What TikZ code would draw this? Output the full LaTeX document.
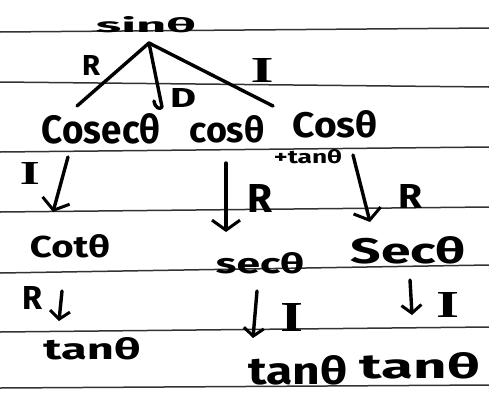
\documentclass[tikz,border=0pt]{standalone}
\usepackage{fontspec}
\setmainfont{Fira Sans}
\newfontfamily\serifhw{Liberation Serif}
\usetikzlibrary{arrows.meta}
\newcommand{\hwb}[3]{\resizebox{#1pt}{#2pt}{\bfseries #3}}
\newcommand{\hwi}[2]{\resizebox{#1pt}{#2pt}{\serifhw\bfseries I}}
\tikzset{
  txt/.style={inner sep=0pt, text=black},
  rule/.style={line width=1.5pt, draw=black!80},
  ln/.style={line width=3.4pt, line cap=round, line join=round},
  arr/.style={ln, -{Straight Barb[length=10pt,width=28pt,line width=3pt]}},
  arrs/.style={ln, -{Straight Barb[length=8pt,width=20pt,line width=3pt]}}
}
\begin{document}
\begin{tikzpicture}[x=1pt,y=-1pt]
\useasboundingbox (0,0) rectangle (489,399);
\fill[white] (0,0) rectangle (489,399);
% ruled paper lines
\draw[rule] (0,32) -- (489,28);
\draw[rule] (0,82) -- (489,87);
\draw[rule] (0,152) -- (489,147);
\draw[rule] (0,212) -- (489,207);
\draw[rule] (0,273) -- (489,265);
\draw[rule] (0,332) -- (489,327);
\draw[rule] (0,388) -- (489,385);
% texts
\node[txt] (sin) at (146,25) {\hwb{100}{16}{sinθ}};
\node[txt] (cosec) at (101,129) {\hwb{118}{30}{Cosecθ}};
\node[txt] (cosm) at (227,129) {\hwb{75}{27}{cosθ}};
\node[txt] (cosr) at (335,124) {\hwb{85}{27}{Cosθ}};
\node[txt] (ptan) at (308,157) {\hwb{68}{14}{+tanθ}};
\node[txt] (cot) at (70,246) {\hwb{80}{23}{Cotθ}};
\node[txt] (secm) at (260,263) {\hwb{88}{21}{secθ}};
\node[txt] (secr) at (408,250) {\hwb{115}{27}{Secθ}};
\node[txt] (tanl) at (92,349) {\hwb{97}{22}{tanθ}};
\node[txt] (tanm) at (298,370) {\hwb{99}{29}{tanθ}};
\node[txt] (tanr) at (420,366) {\hwb{120}{26}{tanθ}};
% edge labels
\node[txt] (lR1) at (91,65) {\hwb{18}{20}{R}};
\node[txt] (lI1) at (262,70) {\hwi{23}{24}};
\node[txt] (lD) at (183,98) {\hwb{26}{19}{D}};
\node[txt] (lI2) at (30,173) {\hwi{20}{22}};
\node[txt] (lR2) at (260,198) {\hwb{25}{28}{R}};
\node[txt] (lR3) at (410,196) {\hwb{24}{24}{R}};
\node[txt] (lR4) at (33,298) {\hwb{20}{23}{R}};
\node[txt] (lI3) at (292,317) {\hwi{23}{28}};
\node[txt] (lI4) at (448,305) {\hwi{23}{25}};
% connector end points
\coordinate (apex) at (149,43);
\coordinate (e1) at (77,106);
\coordinate (e2) at (162,107);
\coordinate (e3) at (273,106);
\coordinate (a1s) at (68,157);  \coordinate (a1e) at (53,212);
\coordinate (a2s) at (226,163); \coordinate (a2e) at (226,232);
\coordinate (a3s) at (353,155); \coordinate (a3e) at (370,222);
\coordinate (a4s) at (62,291);  \coordinate (a4e) at (59,321);
\coordinate (a5s) at (257,291); \coordinate (a5e) at (253,338);
\coordinate (a6s) at (410,280); \coordinate (a6e) at (412,315);
% connectors
\draw[ln] (apex) -- (e1);
\draw[ln] (apex) -- (e3);
\draw[ln] (apex) -- (e2) .. controls (160,110) and (155,108) .. (154,101);
\draw[arr] (a1s) -- (a1e);
\draw[arr] (a2s) -- (a2e);
\draw[arr] (a3s) -- (a3e);
\draw[arrs] (a4s) -- (a4e);
\draw[arrs] (a5s) -- (a5e);
\draw[arrs] (a6s) -- (a6e);
\end{tikzpicture}
\end{document}
